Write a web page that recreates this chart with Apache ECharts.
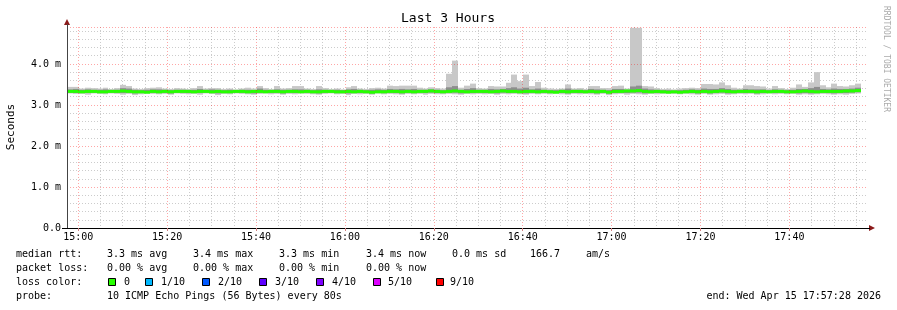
<!DOCTYPE html>
<html>
<head>
<meta charset="utf-8">
<script src="https://cdn.jsdelivr.net/npm/echarts@6/dist/echarts.min.js"></script>
<style>
html,body{margin:0;padding:0;background:#fff;}
#c{width:897px;height:310px;}
</style>
</head>
<body>
<div id="c"></div>
<script>
// ---- data (ms), one entry per 80 s probe round, from 14:57:28 to 17:57:28 ----
var hiVals = [
3.44,3.44,3.40,3.42,3.41,3.40,3.42,3.39,3.41,3.49,
3.46,3.40,3.39,3.41,3.42,3.43,3.40,3.39,3.41,3.40,
3.39,3.41,3.46,3.40,3.41,3.41,3.39,3.40,3.38,3.40,
3.42,3.40,3.46,3.41,3.39,3.46,3.40,3.41,3.46,3.46,
3.40,3.39,3.46,3.41,3.39,3.40,3.38,3.43,3.46,3.40,
3.39,3.41,3.42,3.40,3.47,3.46,3.47,3.47,3.47,3.42,
3.40,3.43,3.41,3.40,3.76,4.08,3.42,3.47,3.52,3.41,
3.40,3.46,3.45,3.45,3.54,3.74,3.58,3.74,3.46,3.56,
3.42,3.40,3.39,3.40,3.50,3.40,3.41,3.39,3.46,3.46,
3.41,3.41,3.46,3.47,3.40,4.88,4.88,3.46,3.45,3.41,
3.39,3.40,3.38,3.40,3.41,3.42,3.41,3.51,3.51,3.50,
3.55,3.48,3.42,3.40,3.48,3.48,3.46,3.45,3.40,3.46,
3.41,3.39,3.42,3.50,3.44,3.55,3.80,3.48,3.43,3.52,
3.46,3.45,3.48,3.52,null];
var q3Vals = [
3.38,3.39,3.37,3.38,3.37,3.37,3.38,3.36,3.37,3.41,
3.40,3.37,3.36,3.37,3.38,3.38,3.37,3.36,3.37,3.37,
3.36,3.37,3.39,3.37,3.38,3.37,3.36,3.37,3.36,3.37,
3.37,3.36,3.40,3.37,3.36,3.38,3.37,3.37,3.38,3.38,
3.37,3.36,3.38,3.37,3.36,3.37,3.36,3.38,3.39,3.37,
3.36,3.37,3.38,3.37,3.39,3.38,3.39,3.38,3.39,3.37,
3.37,3.38,3.37,3.36,3.43,3.46,3.37,3.39,3.41,3.37,
3.37,3.39,3.38,3.39,3.41,3.43,3.40,3.42,3.38,3.40,
3.37,3.36,3.36,3.37,3.40,3.37,3.37,3.36,3.39,3.38,
3.37,3.36,3.39,3.39,3.37,3.45,3.47,3.40,3.38,3.37,
3.36,3.36,3.35,3.36,3.37,3.38,3.37,3.40,3.39,3.39,
3.41,3.39,3.37,3.37,3.39,3.38,3.38,3.38,3.36,3.38,
3.37,3.36,3.37,3.39,3.39,3.41,3.44,3.39,3.38,3.40,
3.39,3.39,3.40,3.42,null];
var medVals = [
3.33,3.33,3.32,3.33,3.33,3.32,3.32,3.33,3.33,3.34,
3.33,3.32,3.32,3.31,3.33,3.32,3.33,3.32,3.33,3.33,
3.33,3.32,3.33,3.33,3.32,3.33,3.32,3.32,3.33,3.33,
3.32,3.33,3.33,3.32,3.33,3.33,3.32,3.33,3.33,3.32,
3.33,3.32,3.32,3.33,3.33,3.32,3.32,3.33,3.32,3.33,
3.32,3.31,3.32,3.32,3.33,3.33,3.32,3.33,3.32,3.33,
3.33,3.34,3.33,3.32,3.33,3.34,3.33,3.32,3.33,3.33,
3.33,3.32,3.33,3.34,3.33,3.33,3.32,3.33,3.33,3.32,
3.33,3.32,3.31,3.33,3.32,3.33,3.33,3.32,3.33,3.32,
3.33,3.31,3.33,3.33,3.34,3.34,3.35,3.33,3.32,3.33,
3.32,3.31,3.32,3.31,3.32,3.33,3.32,3.33,3.32,3.33,
3.34,3.33,3.32,3.33,3.33,3.33,3.32,3.33,3.32,3.33,
3.33,3.32,3.32,3.33,3.34,3.33,3.32,3.33,3.33,3.33,
3.33,3.34,3.34,3.35,null];
var q1Vals = [
3.30,3.29,3.30,3.29,3.30,3.29,3.29,3.30,3.30,3.29,
3.30,3.28,3.29,3.30,3.30,3.29,3.30,3.28,3.30,3.30,
3.29,3.30,3.29,3.30,3.29,3.28,3.30,3.29,3.30,3.30,
3.29,3.28,3.30,3.30,3.29,3.30,3.28,3.30,3.29,3.30,
3.30,3.29,3.28,3.30,3.30,3.29,3.29,3.28,3.29,3.29,
3.30,3.28,3.30,3.29,3.30,3.29,3.28,3.30,3.29,3.30,
3.29,3.30,3.29,3.29,3.30,3.30,3.28,3.30,3.29,3.30,
3.29,3.30,3.28,3.30,3.29,3.30,3.29,3.28,3.30,3.29,
3.30,3.29,3.30,3.29,3.28,3.30,3.29,3.30,3.29,3.28,
3.30,3.28,3.29,3.30,3.29,3.30,3.30,3.28,3.29,3.29,
3.30,3.30,3.29,3.29,3.30,3.29,3.28,3.30,3.28,3.29,
3.30,3.28,3.29,3.30,3.29,3.30,3.28,3.29,3.30,3.29,
3.30,3.29,3.30,3.28,3.29,3.28,3.29,3.30,3.29,3.28,
3.29,3.29,3.30,3.31,null];
var loVals = [
3.28,3.27,3.27,3.25,3.28,3.27,3.26,3.28,3.27,3.25,
3.27,3.24,3.26,3.28,3.27,3.26,3.27,3.25,3.28,3.27,
3.26,3.27,3.25,3.28,3.27,3.24,3.27,3.26,3.28,3.27,
3.26,3.25,3.27,3.28,3.26,3.27,3.25,3.27,3.26,3.28,
3.27,3.26,3.25,3.27,3.28,3.26,3.27,3.24,3.27,3.26,
3.27,3.25,3.28,3.26,3.27,3.26,3.25,3.27,3.26,3.27,
3.25,3.27,3.26,3.26,3.27,3.26,3.25,3.27,3.26,3.27,
3.26,3.27,3.25,3.27,3.26,3.27,3.26,3.25,3.27,3.26,
3.27,3.26,3.28,3.26,3.25,3.27,3.26,3.27,3.26,3.25,
3.27,3.24,3.26,3.27,3.25,3.27,3.26,3.25,3.27,3.26,
3.27,3.28,3.27,3.26,3.27,3.26,3.25,3.27,3.25,3.26,
3.27,3.25,3.26,3.27,3.26,3.27,3.25,3.26,3.28,3.26,
3.27,3.26,3.27,3.25,3.26,3.25,3.26,3.27,3.26,3.25,
3.26,3.25,3.27,3.28,null];

// x unit: minutes relative to 15:00
var startMin = -152 / 60;      // 14:57:28
var endMin = startMin + 180;   // 17:57:28
var stepMin = 80 / 60;         // probe interval
var majorTicks = [0, 20, 40, 60, 80, 100, 120, 140, 160];
var minorTicks = [5,10,15,25,30,35,45,50,55,65,70,75,85,90,95,105,110,115,125,130,135,145,150,155,165,170,175];
var yTicksMinor = [0.2,0.4,0.6,0.8,1.2,1.4,1.6,1.8,2.2,2.4,2.6,2.8,3.2,3.4,3.6,3.8,4.2,4.4,4.6,4.8];

var lossColors = ['#26ff00','#00b8ff','#0059ff','#5e00ff','#7e00ff','#dd00ff','#ff0000'];
var lossLabels = ['0','1/10','2/10','3/10','4/10','5/10','9/10'];

var rows = [];
for (var i = 0; i < hiVals.length; i++) {
  if (hiVals[i] == null) continue;
  var a = startMin + i * stepMin;
  rows.push([a, a + stepMin, loVals[i], q1Vals[i], q3Vals[i], hiVals[i], medVals[i]]);
}

function fmtTime(m) {
  var h = 15 + Math.floor(m / 60);
  var mm = Math.round(m - Math.floor(m / 60) * 60);
  return h + ':' + (mm < 10 ? '0' : '') + mm;
}

var MONO = '"DejaVu Sans Mono", monospace';
var chart = echarts.init(document.getElementById('c'), null, {renderer: 'canvas'});

function txt(x, y, s, opts) {
  opts = opts || {};
  return {
    type: 'text', x: x, y: y, silent: true,
    rotation: opts.rotation || 0,
    style: {
      text: s, fill: opts.fill || '#000', font: (opts.size || 10) + 'px ' + MONO,
      textAlign: opts.align || 'left', textVerticalAlign: 'middle'
    }
  };
}

var graphics = [
  txt(448, 19, 'Last 3 Hours', {size: 13, align: 'center'}),
  txt(11, 127, 'Seconds', {size: 11, align: 'center', rotation: Math.PI / 2}),
  txt(886, 59, 'RRDTOOL / TOBI OETIKER', {size: 8, align: 'center', rotation: -Math.PI / 2, fill: '#aaaaaa'}),
  // axis arrows
  {type: 'polygon', silent: true, shape: {points: [[64, 25], [70, 25], [67, 19]]}, style: {fill: '#8b1a1a'}},
  {type: 'polygon', silent: true, shape: {points: [[869, 225], [869, 231], [875, 228]]}, style: {fill: '#8b1a1a'}},
  {type: 'line', silent: true, shape: {x1: 867, y1: 228.5, x2: 870, y2: 228.5}, style: {stroke: '#000', lineWidth: 1}},
  {type: 'line', silent: true, shape: {x1: 62, y1: 228.5, x2: 67, y2: 228.5}, style: {stroke: '#000', lineWidth: 1}},
  {type: 'line', silent: true, shape: {x1: 67.5, y1: 27, x2: 67.5, y2: 24}, style: {stroke: '#444', lineWidth: 1}},
  // legend rows
  txt(16, 254, 'median rtt:'),
  txt(107, 254, '3.3 ms avg'),
  txt(193, 254, '3.4 ms max'),
  txt(279, 254, '3.3 ms min'),
  txt(366, 254, '3.4 ms now'),
  txt(452, 254, '0.0 ms sd'),
  txt(530, 254, '166.7'),
  txt(586, 254, 'am/s'),
  txt(16, 268, 'packet loss:'),
  txt(107, 268, '0.00 % avg'),
  txt(193, 268, '0.00 % max'),
  txt(279, 268, '0.00 % min'),
  txt(366, 268, '0.00 % now'),
  txt(16, 282, 'loss color:'),
  txt(16, 296, 'probe:'),
  txt(107, 296, '10 ICMP Echo Pings (56 Bytes) every 80s'),
  txt(881, 296, 'end: Wed Apr 15 17:57:28 2026', {align: 'right'})
];
var sqX = [108.5, 145.5, 202.5, 259.5, 316.5, 373.5, 436.5];
var lbX = [124, 161, 218, 275, 332, 388, 450];
for (var k = 0; k < lossColors.length; k++) {
  graphics.push({type: 'rect', silent: true, shape: {x: sqX[k], y: 278.5, width: 7, height: 7},
    style: {fill: lossColors[k], stroke: '#000', lineWidth: 1}});
  graphics.push(txt(lbX[k], 282, lossLabels[k]));
}

var option = {
  animation: false,
  backgroundColor: '#ffffff',
  grid: {left: 67, right: 30, top: 27, bottom: 82, containLabel: false},
  xAxis: [{
    type: 'value', min: startMin, max: endMin,
    axisLine: {show: true, onZero: false, lineStyle: {color: '#000', width: 1}},
    axisTick: {show: true, length: 3, inside: false, customValues: majorTicks, lineStyle: {color: '#d08080'}},
    axisLabel: {show: true, customValues: majorTicks, formatter: fmtTime, margin: 4,
      fontFamily: MONO, fontSize: 10, color: '#000'},
    splitLine: {show: true, lineStyle: {color: 'rgba(255,0,0,0.35)', type: [1, 2], width: 1}},
    z: 5
  }, {
    type: 'value', min: startMin, max: endMin, show: true,
    axisLine: {show: false, onZero: false}, axisLabel: {show: false},
    axisTick: {show: false, customValues: minorTicks},
    splitLine: {show: true, lineStyle: {color: 'rgba(110,110,110,0.35)', type: [1, 2], width: 1}},
    z: 1
  }],
  yAxis: [{
    type: 'value', min: 0, max: 4.9, interval: 1,
    axisLine: {show: true, onZero: false, lineStyle: {color: '#444', width: 1}},
    axisTick: {show: false},
    axisLabel: {formatter: function (v) { return v === 0 ? '0.0' : v.toFixed(1) + ' m'; },
      showMaxLabel: false,
      fontFamily: MONO, fontSize: 10, color: '#000', margin: 6},
    splitLine: {show: true, lineStyle: {color: 'rgba(255,0,0,0.35)', type: [1, 2], width: 1}},
    z: 5
  }, {
    type: 'value', min: 0, max: 4.9, interval: 0.2, show: true, position: 'left',
    axisLine: {show: false, onZero: false}, axisLabel: {show: false},
    axisTick: {show: false, customValues: yTicksMinor},
    splitLine: {show: true, lineStyle: {color: 'rgba(110,110,110,0.35)', type: [1, 2], width: 1}},
    z: 1
  }],
  graphic: graphics,
  series: [{
    type: 'custom',
    xAxisIndex: 0, yAxisIndex: 0,
    data: rows,
    z: 3,
    renderItem: function (params, api) {
      var x0 = api.coord([api.value(0), 0])[0];
      var x1 = api.coord([api.value(1), 0])[0];
      var yLo = api.coord([0, api.value(2)])[1];
      var yQ1 = api.coord([0, api.value(3)])[1];
      var yQ3 = api.coord([0, api.value(4)])[1];
      var yHi = api.coord([0, api.value(5)])[1];
      var yMed = api.coord([0, api.value(6)])[1];
      var L = Math.round(x0), R = Math.round(x1);
      return {
        type: 'group',
        children: [
          {type: 'rect', shape: {x: L, y: yHi, width: R - L, height: yLo - yHi}, style: {fill: '#c8c8c8'}},
          {type: 'rect', shape: {x: L, y: yQ3, width: R - L, height: yQ1 - yQ3}, style: {fill: '#8e8e8e'}},
          {type: 'rect', shape: {x: L, y: yMed - 1.5, width: R - L, height: 3}, style: {fill: lossColors[0]}}
        ]
      };
    }
  }]
};
chart.setOption(option);
</script>
</body>
</html>
